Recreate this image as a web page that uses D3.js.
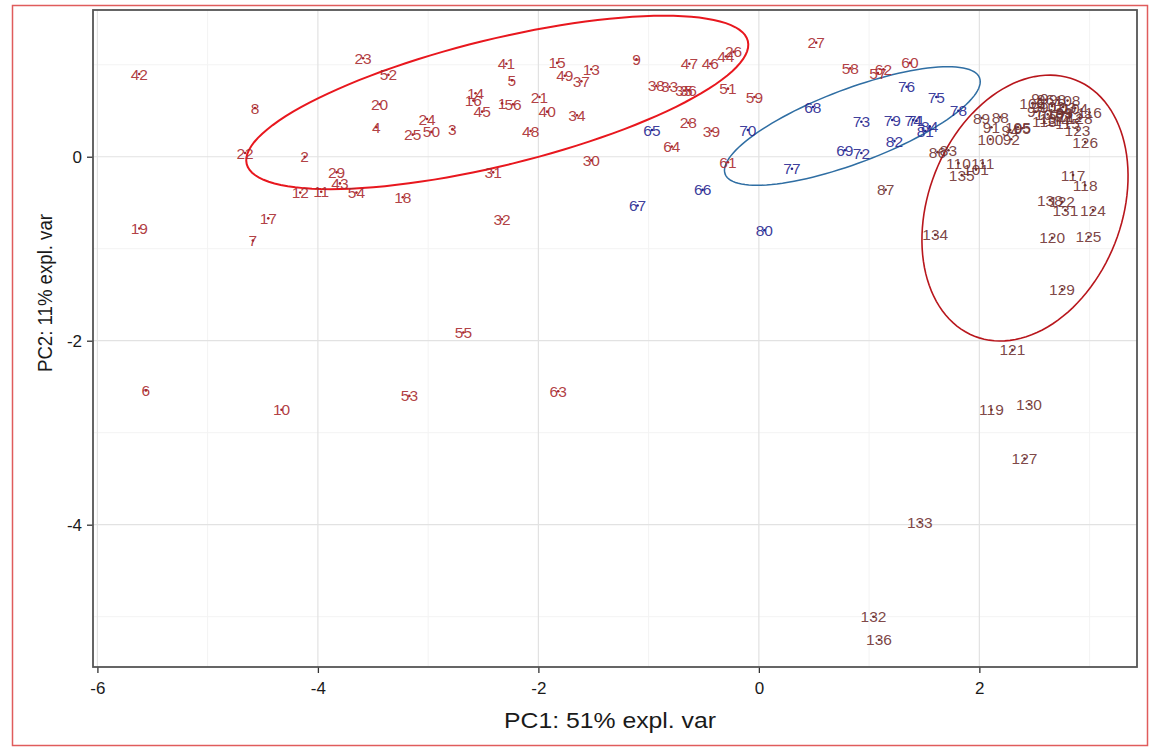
<!DOCTYPE html>
<html>
<head>
<meta charset="utf-8">
<script src="https://cdn.jsdelivr.net/npm/d3@7"></script>
<style>
  body { margin: 0; background: #fff; }
  svg { display: block; }
</style>
</head>
<body>
<div id="chart"></div>
<script>
// [label, PC1, PC2]
const groupA = [
  [1,-2.33,0.58],[2,-4.12,0.00],[3,-2.78,0.30],[4,-3.47,0.32],[5,-2.24,0.83],
  [6,-5.56,-2.54],[7,-4.59,-0.91],[8,-4.57,0.53],[9,-1.11,1.06],[10,-4.33,-2.75],
  [11,-3.97,-0.38],[12,-4.16,-0.39],[13,-1.52,0.95],[14,-2.57,0.69],[15,-1.83,1.02],
  [16,-2.59,0.61],[17,-4.45,-0.67],[18,-3.23,-0.44],[19,-5.62,-0.78],[20,-3.44,0.57],
  [21,-1.99,0.65],[22,-4.66,0.04],[23,-3.59,1.07],[24,-3.01,0.41],[25,-3.14,0.24],
  [26,-0.23,1.14],[27,0.52,1.24],[28,-0.64,0.37],[29,-3.83,-0.17],[30,-1.52,-0.04],
  [31,-2.41,-0.17],[32,-2.33,-0.68],[33,-0.81,0.76],[34,-1.65,0.45],[35,-0.68,0.72],
  [36,-0.64,0.72],[37,-1.61,0.82],[38,-0.93,0.77],[39,-0.43,0.28],[40,-1.92,0.49],
  [41,-2.29,1.01],[42,-5.62,0.90],[43,-3.80,-0.29],[44,-0.30,1.09],[45,-2.51,0.49],
  [46,-0.44,1.01],[47,-0.63,1.01],[48,-2.07,0.28],[49,-1.76,0.88],[50,-2.97,0.27],
  [51,-0.28,0.74],[52,-3.36,0.89],[53,-3.17,-2.60],[54,-3.65,-0.39],[55,-2.68,-1.91],
  [56,-2.23,0.57],[57,1.08,0.91],[58,0.83,0.96],[59,-0.04,0.65],[60,1.37,1.02],
  [61,-0.28,-0.06],[62,1.13,0.95],[63,-1.82,-2.55],[64,-0.79,0.11]
];
const groupB = [
  [65,-0.97,0.29],[66,-0.51,-0.36],[67,-1.10,-0.53],[68,0.49,0.54],[69,0.78,0.07],
  [70,-0.10,0.29],[71,1.43,0.39],[72,0.93,0.04],[73,0.93,0.38],[74,1.40,0.40],
  [75,1.61,0.65],[76,1.34,0.76],[77,0.30,-0.13],[78,1.81,0.50],[79,1.21,0.40],
  [80,0.05,-0.80],[81,1.51,0.28],[82,1.23,0.17],[84,1.55,0.33]
];
const groupC = [
  [83,1.72,0.07],[86,1.62,0.05],[87,1.15,-0.36],[88,2.19,0.43],[89,2.02,0.42],
  [90,2.55,0.63],[91,2.11,0.32],[92,2.29,0.19],[93,2.77,0.48],[94,2.28,0.29],
  [95,2.39,0.31],[96,2.60,0.62],[97,2.51,0.49],[98,2.71,0.62],[99,2.55,0.54],
  [100,2.10,0.19],[101,1.97,-0.14],[102,2.66,0.55],[103,2.76,0.54],[104,2.87,0.53],
  [105,2.35,0.32],[106,2.48,0.58],[107,2.62,0.46],[108,2.80,0.61],[109,2.73,0.47],
  [110,1.81,-0.07],[111,2.03,-0.07],[112,2.82,0.44],[113,2.59,0.38],[114,2.71,0.39],
  [115,2.80,0.36],[116,3.00,0.48],[117,2.85,-0.20],[118,2.96,-0.31],[119,2.11,-2.75],
  [120,2.66,-0.88],[121,2.30,-2.10],[122,2.75,-0.49],[123,2.89,0.29],[124,3.03,-0.58],
  [125,2.99,-0.87],[126,2.96,0.16],[127,2.41,-3.28],[128,2.91,0.42],[129,2.75,-1.44],
  [130,2.45,-2.69],[131,2.78,-0.58],[132,1.04,-5.00],[133,1.46,-3.97],[134,1.60,-0.85],
  [135,1.84,-0.20],[136,1.09,-5.25],[137,2.66,0.42],[138,2.64,-0.47]
];

const xTicks = [-6, -4, -2, 0, 2];
const yTicks = [0, -2, -4];
const xMinor = [-5, -3, -1, 1, 3];
const yMinor = [1, -1, -3, -5];
const xTitle = "PC1: 51% expl. var";
const yTitle = "PC2: 11% expl. var";

// hand-drawn rings: centre and two half-axis vectors, in PC units
const rings = [
  [-2.373, 0.590, 2.273, 0.668, 0.136, -0.665],
  [0.848, 0.334, 1.154, 0.523, 0.119, -0.376],
  [2.414, -0.558, 0.458, 1.393, 0.815, -0.385]
];

const W = 1153, H = 747;
const panel = { left: 93, right: 1137, top: 10, bottom: 667 };
const font = "'Liberation Sans', Arial, sans-serif";
const groupColor = ["#a8282c", "#25258f", "#6e3030"];
const ringColor = ["#e8171e", "#2f6ea3", "#b8161c"];
const ringWidth = [2, 1.5, 1.6];

const x = d3.scaleLinear().domain([-6.04, 3.43]).range([panel.left, panel.right]);
const y = d3.scaleLinear().domain([1.595, -5.547]).range([panel.top, panel.bottom]);

const svg = d3.select("#chart").append("svg")
  .attr("width", W).attr("height", H)
  .style("font-family", font);

svg.append("rect").attr("width", W).attr("height", H).attr("fill", "#fff");

// grid
const grid = svg.append("g");
grid.selectAll(".vmin").data(xMinor).enter().append("line")
  .attr("x1", d => x(d)).attr("x2", d => x(d))
  .attr("y1", panel.top).attr("y2", panel.bottom)
  .attr("stroke", "#f3f3f3").attr("stroke-width", 1);
grid.selectAll(".hmin").data(yMinor).enter().append("line")
  .attr("y1", d => y(d)).attr("y2", d => y(d))
  .attr("x1", panel.left).attr("x2", panel.right)
  .attr("stroke", "#f3f3f3").attr("stroke-width", 1);
grid.selectAll(".vmaj").data(xTicks).enter().append("line")
  .attr("x1", d => x(d)).attr("x2", d => x(d))
  .attr("y1", panel.top).attr("y2", panel.bottom)
  .attr("stroke", "#e2e2e2").attr("stroke-width", 1.2);
grid.selectAll(".hmaj").data(yTicks).enter().append("line")
  .attr("y1", d => y(d)).attr("y2", d => y(d))
  .attr("x1", panel.left).attr("x2", panel.right)
  .attr("stroke", "#e2e2e2").attr("stroke-width", 1.2);

// axes (plain hyphen for negatives, like the original)
const plain = d => String(d);
const xAxis = svg.append("g")
  .attr("transform", `translate(0,${panel.bottom})`)
  .call(d3.axisBottom(x).tickValues(xTicks).tickSize(6).tickPadding(6).tickFormat(plain));
const yAxis = svg.append("g")
  .attr("transform", `translate(${panel.left},0)`)
  .call(d3.axisLeft(y).tickValues(yTicks).tickSize(6).tickPadding(5).tickFormat(plain));
[xAxis, yAxis].forEach(a => {
  a.select(".domain").remove();
  a.selectAll("line").attr("stroke", "#333").attr("stroke-width", 1.3);
  a.selectAll("text").attr("fill", "#1a1a1a").style("font-size", "17px").style("font-family", font);
});
xAxis.selectAll("text").attr("dy", "0.9em");

// rings
const steps = d3.range(0, 121).map(i => i / 120 * 2 * Math.PI);
const ringLine = d3.line().x(p => x(p[0])).y(p => y(p[1])).curve(d3.curveLinearClosed);
rings.forEach((r, i) => {
  const pts = steps.map(t => [r[0] + r[2] * Math.cos(t) + r[4] * Math.sin(t),
                              r[1] + r[3] * Math.cos(t) + r[5] * Math.sin(t)]);
  svg.append("path").attr("d", ringLine(pts))
    .attr("fill", "none").attr("stroke", ringColor[i]).attr("stroke-width", ringWidth[i]);
});

// labels
[groupA, groupB, groupC].forEach((grp, gi) => {
  const g = svg.append("g");
  g.selectAll("text").data(grp).enter().append("text")
    .attr("x", d => x(d[1])).attr("y", d => y(d[2]))
    .attr("dy", "0.36em")
    .attr("text-anchor", "middle")
    .attr("fill", groupColor[gi])
    .attr("fill-opacity", 0.9)
    .style("font-size", "15.5px")
    .text(d => d[0]);
  g.selectAll("circle").data(grp).enter().append("circle")
    .attr("cx", d => x(d[1])).attr("cy", d => y(d[2]))
    .attr("r", 1.3).attr("fill", groupColor[gi]);
});

// panel border
svg.append("rect")
  .attr("x", panel.left).attr("y", panel.top)
  .attr("width", panel.right - panel.left).attr("height", panel.bottom - panel.top)
  .attr("fill", "none").attr("stroke", "#555").attr("stroke-width", 1.8);

// titles
svg.append("text")
  .attr("x", (panel.left + panel.right) / 2 - 5).attr("y", 728)
  .attr("text-anchor", "middle")
  .attr("textLength", 212).attr("lengthAdjust", "spacingAndGlyphs")
  .style("font-size", "22px").attr("fill", "#1a1a1a")
  .text(xTitle);
svg.append("text")
  .attr("transform", "translate(52,293) rotate(-90)")
  .attr("text-anchor", "middle")
  .attr("textLength", 158).attr("lengthAdjust", "spacingAndGlyphs")
  .style("font-size", "20px").attr("fill", "#1a1a1a")
  .text(yTitle);

// outer frame
svg.append("rect")
  .attr("x", 12.5).attr("y", 5.5).attr("width", 1135).attr("height", 740)
  .attr("fill", "none").attr("stroke", "#e05c5c").attr("stroke-width", 1.5);
</script>
</body>
</html>
